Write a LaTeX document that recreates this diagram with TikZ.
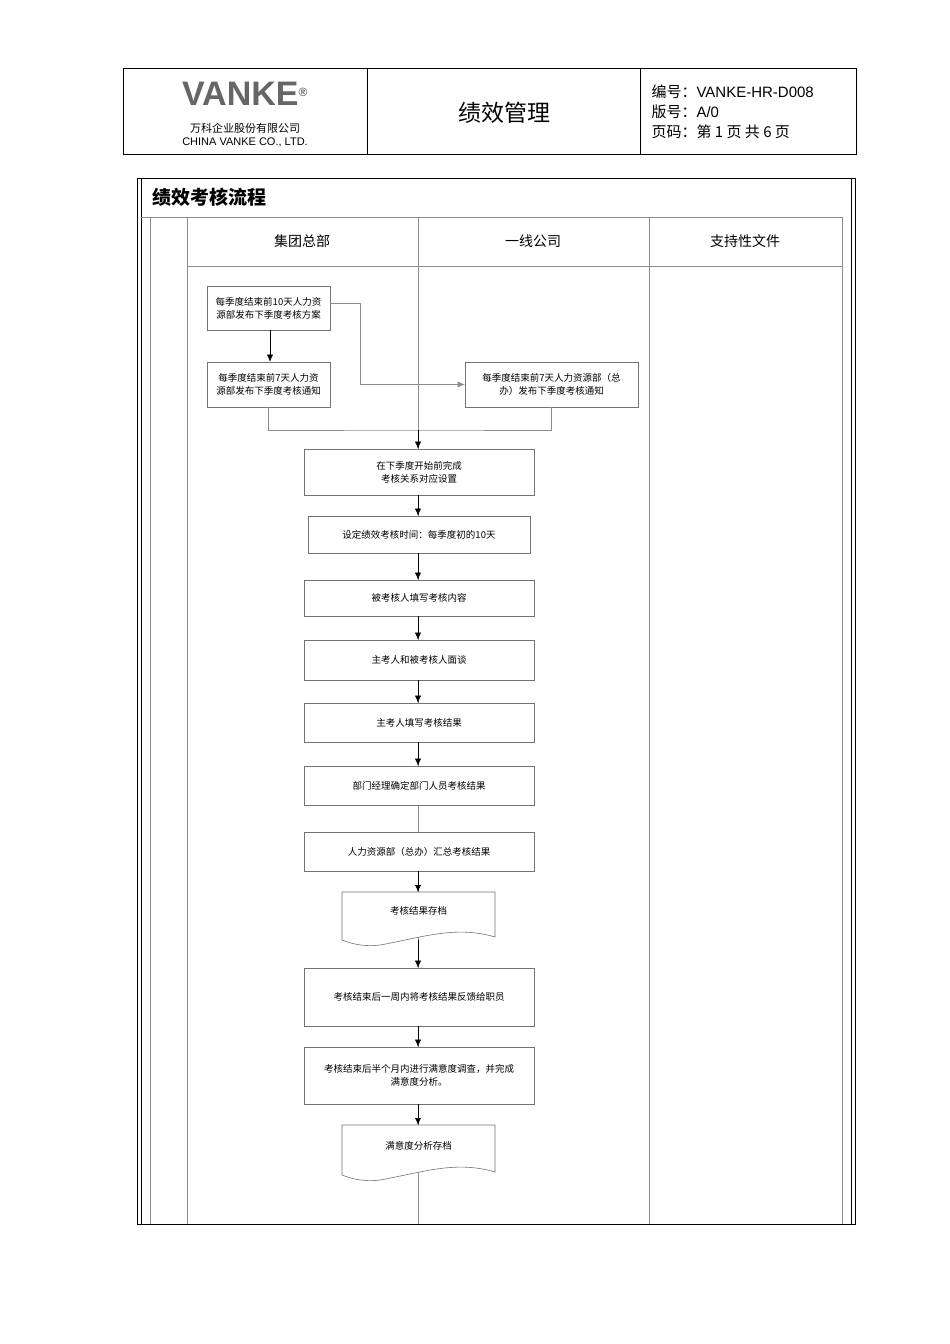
\documentclass[tikz,border=0pt]{standalone}
\usepackage{fontspec}
\setmainfont{Liberation Sans}
\newfontfamily\cjk{Noto Sans CJK SC}
\usetikzlibrary{arrows.meta}
\begin{document}
\begin{tikzpicture}[x=1pt,y=-1pt,
  box/.style={draw=black!55,line width=0.6pt,fill=white,font=\cjk\fontsize{9.5}{13}\selectfont,align=center,inner sep=0pt},
  arr/.style={draw=black,line width=0.5pt,-{Latex[length=7pt,width=6pt]}},
  ln/.style={draw=black!45,line width=0.6pt}]
\useasboundingbox (0,0) rectangle (950,1344);
% header
\draw[line width=0.6pt] (123,68) rectangle (856,154);
\draw[line width=0.6pt] (367,68)--(367,154) (640,68)--(640,154);
\node (logo) at (245,94) {\fontsize{34}{34}\selectfont\bfseries\color{black!60}VANKE\textsuperscript{\fontsize{12}{12}\selectfont\textregistered}};
\node (co) at (245,135) [align=center,font=\fontsize{11}{13}\selectfont] {{\cjk 万科企业股份有限公司}\\CHINA VANKE CO., LTD.};
\node (ttl) at (504,113) {\cjk\fontsize{23}{24}\selectfont 绩效管理};
\node (meta) at (648,112) [anchor=west,align=left,font=\fontsize{15}{20}\selectfont] {{\cjk 编号：}VANKE-HR-D008\\{\cjk 版号：}A/0\\{\cjk 页码：第 1 页 共 6 页}};
% frame
\draw[line width=0.8pt] (137,178) rectangle (855,1224);
\draw[line width=0.8pt] (141,178) rectangle (851,1224);
\draw[ln] (141,217)--(842,217)--(842,1224);
\draw[ln] (150,217)--(150,1224) (150,217)--(842,217);
\draw[ln] (187,217)--(187,1224) (418,217)--(418,1224) (649,217)--(649,1224);
\draw[ln] (187,266)--(842,266);
\node (ftitle) at (149,197) [anchor=west] {\cjk\bfseries\fontsize{19}{20}\selectfont 绩效考核流程};
\node (l1) at (302,241) {\cjk\fontsize{14}{15}\selectfont 集团总部};
\node (l2) at (533,241) {\cjk\fontsize{14}{15}\selectfont 一线公司};
\node (l3) at (745,241) {\cjk\fontsize{14}{15}\selectfont 支持性文件};
% boxes
\node[box,minimum width=123,minimum height=44] (b1) at (268.5,308) {每季度结束前10天人力资\\源部发布下季度考核方案};
\node[box,minimum width=123,minimum height=45] (b2) at (268.5,384.5) {每季度结束前7天人力资\\源部发布下季度考核通知};
\node[box,minimum width=173,minimum height=45] (b3) at (551.5,384.5) {每季度结束前7天人力资源部（总\\办）发布下季度考核通知};
\node[box,minimum width=230,minimum height=46] (b4) at (419,472) {在下季度开始前完成\\考核关系对应设置};
\node[box,minimum width=222,minimum height=37] (b5) at (419,534.5) {设定绩效考核时间：每季度初的10天};
\node[box,minimum width=230,minimum height=36] (b6) at (419,598) {被考核人填写考核内容};
\node[box,minimum width=230,minimum height=40] (b7) at (419,660) {主考人和被考核人面谈};
\node[box,minimum width=230,minimum height=39] (b8) at (419,722.5) {主考人填写考核结果};
\node[box,minimum width=230,minimum height=39] (b9) at (419,785.5) {部门经理确定部门人员考核结果};
\node[box,minimum width=230,minimum height=39] (b10) at (419,851.5) {人力资源部（总办）汇总考核结果};
\draw[box] (342,892)--(495,892)--(495,937) .. controls (455,925) and (420,938) .. (380,945) .. controls (365,947) and (352,944) .. (342,940)--cycle;
\node[font=\cjk\fontsize{9.5}{12}\selectfont] (d1) at (418.5,911) {考核结果存档};
\coordinate (d1t) at (418,892);
\coordinate (d1b) at (418,940);
\node[box,minimum width=230,minimum height=58] (b11) at (419,997) {考核结束后一周内将考核结果反馈给职员};
\node[box,minimum width=230,minimum height=57] (b12) at (419,1075.5) {考核结束后半个月内进行满意度调查，并完成\\满意度分析。};
\draw[box] (342,1125)--(495,1125)--(495,1172) .. controls (455,1160) and (420,1173) .. (380,1180) .. controls (365,1182) and (352,1179) .. (342,1175)--cycle;
\node[font=\cjk\fontsize{9.5}{12}\selectfont] (d2) at (418.5,1146) {满意度分析存档};
\coordinate (d2t) at (418,1125);
% connectors
\draw[arr] (b1.south -| 270,0) -- (b2.north -| 270,0);
\coordinate (j1) at (360,303);
\draw[arr,draw=black!45] (b1.east |- j1) -- (j1) |- (b3.west);
\coordinate (m) at (418,430);
\draw[ln] (b2.south) |- (m) -| (b3.south);
\draw[arr] (m) -- (b4.north -| m);
\draw[arr] (b4.south -| m) -- (b5.north -| m);
\draw[arr] (b5.south -| m) -- (b6.north -| m);
\draw[arr] (b6.south -| m) -- (b7.north -| m);
\draw[arr] (b7.south -| m) -- (b8.north -| m);
\draw[arr] (b8.south -| m) -- (b9.north -| m);
\draw[arr] (b10.south -| m) -- (d1t);
\draw[arr] (d1b) -- (b11.north -| m);
\draw[arr] (b11.south -| m) -- (b12.north -| m);
\draw[arr] (b12.south -| m) -- (d2t);
\end{tikzpicture}
\end{document}
